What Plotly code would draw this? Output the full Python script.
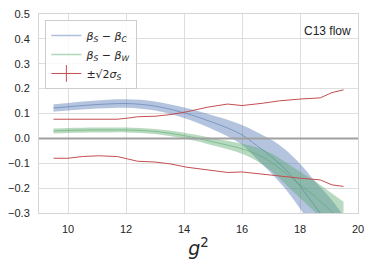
import plotly.graph_objects as go

# ---- data ----
g2 = [9.5, 10, 10.5, 11, 11.5, 12, 12.5, 13, 13.5, 14, 14.5, 15, 15.5, 16,
      16.5, 17, 17.5, 18, 18.5, 19, 19.5]
bc_mid = [0.122, 0.127, 0.132, 0.136, 0.139, 0.140, 0.137, 0.130, 0.118, 0.103,
          0.085, 0.064, 0.042, 0.014, -0.028, -0.072, -0.125, -0.192, -0.270,
          -0.350, -0.440]
bc_err = [0.015, 0.015, 0.016, 0.016, 0.017, 0.017, 0.018, 0.018, 0.019, 0.021,
          0.024, 0.028, 0.033, 0.040, 0.054, 0.067, 0.079, 0.090, 0.100,
          0.115, 0.130]
bw_mid = [0.030, 0.032, 0.033, 0.034, 0.034, 0.034, 0.032, 0.028, 0.021, 0.011,
          0.000, -0.014, -0.027, -0.042, -0.063, -0.095, -0.140, -0.187, -0.232,
          -0.285, -0.340]
bw_err = [0.010, 0.010, 0.010, 0.010, 0.010, 0.010, 0.010, 0.010, 0.011, 0.012,
          0.013, 0.015, 0.017, 0.020, 0.027, 0.035, 0.044, 0.053, 0.062,
          0.072, 0.085]

sig_x = [9.5, 10.0, 10.5, 11.05, 11.7, 12.1, 12.4, 13.0, 13.55, 14.1, 14.8,
         15.5, 16.0, 16.7, 17.3, 18.0, 18.7, 19.1, 19.5]
sig_up = [0.077, 0.077, 0.075, 0.074, 0.077, 0.082, 0.087, 0.089, 0.096, 0.107,
          0.125, 0.138, 0.132, 0.141, 0.151, 0.158, 0.163, 0.184, 0.195]
sig_lo = [-0.080, -0.080, -0.073, -0.070, -0.073, -0.084, -0.092, -0.095, -0.103,
          -0.116, -0.127, -0.137, -0.135, -0.144, -0.153, -0.160, -0.167, -0.187,
          -0.193]

x_ticks = [10, 12, 14, 16, 18, 20]
y_ticks = [-0.3, -0.2, -0.1, 0.0, 0.1, 0.2, 0.3, 0.4, 0.5]
legend_names = ["<i>β<sub>S</sub></i> − <i>β<sub>C</sub></i>",
                "<i>β<sub>S</sub></i> − <i>β<sub>W</sub></i>",
                "±√2<i>σ<sub>S</sub></i>"]

BLUE = "76,114,176"
GREEN = "85,168,104"
RED = "#C44E52"

fig = go.Figure()

def band(mid, err, rgb):
    up = [m + e for m, e in zip(mid, err)]
    lo = [m - e for m, e in zip(mid, err)]
    fig.add_trace(go.Scatter(x=g2, y=up, mode="lines", line=dict(width=0, shape="spline"),
                             showlegend=False, hoverinfo="skip"))
    fig.add_trace(go.Scatter(x=g2, y=lo, mode="lines", line=dict(width=0, shape="spline"),
                             fill="tonexty", fillcolor=f"rgba({rgb},0.42)",
                             showlegend=False, hoverinfo="skip"))
    fig.add_trace(go.Scatter(x=g2, y=mid, mode="lines",
                             line=dict(color=f"rgba({rgb},0.55)", width=1, shape="spline"),
                             showlegend=False))

band(bc_mid, bc_err, BLUE)
band(bw_mid, bw_err, GREEN)

fig.add_trace(go.Scatter(x=sig_x, y=sig_up, mode="lines", line=dict(color=RED, width=1),
                         showlegend=False))
fig.add_trace(go.Scatter(x=sig_x, y=sig_lo, mode="lines", line=dict(color=RED, width=1),
                         showlegend=False))

# legend entries
fig.add_trace(go.Scatter(x=[None], y=[None], mode="lines", name=legend_names[0],
                         line=dict(color=f"rgba({BLUE},0.45)", width=1.5)))
fig.add_trace(go.Scatter(x=[None], y=[None], mode="lines", name=legend_names[1],
                         line=dict(color=f"rgba({GREEN},0.45)", width=1.5)))
fig.add_trace(go.Scatter(x=[None], y=[None], mode="lines+markers", name=legend_names[2],
                         line=dict(color=RED, width=1),
                         marker=dict(symbol="line-ns-open", size=12, color=RED,
                                     line=dict(color=RED, width=1))))

fig.add_hline(y=0, line=dict(color="#a0a0a0", width=2))

fig.add_annotation(text="C13 flow", x=0.985, y=0.915, xref="paper", yref="paper",
                   xanchor="right", yanchor="middle", showarrow=False,
                   font=dict(family="Liberation Sans, Arial", size=12, color="#222"))

fig.update_layout(
    width=374, height=267,
    margin=dict(l=38.5, r=16, t=14, b=54),
    paper_bgcolor="white", plot_bgcolor="white",
    font=dict(family="Liberation Sans, Arial", size=11, color="#262626"),
    legend=dict(x=0.02, y=0.97, xanchor="left", yanchor="top",
                traceorder="normal",
                bgcolor="rgba(255,255,255,0.8)", bordercolor="#cccccc", borderwidth=1,
                font=dict(family="DejaVu Sans", size=11, color="#262626"),
                itemwidth=30, tracegroupgap=2),
    xaxis=dict(range=[9, 20], tickvals=x_ticks, showgrid=True, gridcolor="#dedede",
               gridwidth=1, zeroline=False, showline=True, linecolor="#d5d5d5",
               mirror=True, ticks="", ticklabelstandoff=6, automargin=False,
               title=dict(text="<i>g</i><sup>2</sup>", standoff=6,
                          font=dict(family="DejaVu Sans", size=19, color="#262626"))),
    yaxis=dict(range=[-0.3, 0.5], tickvals=y_ticks, tickformat=".1f",
               showgrid=True, gridcolor="#dedede", gridwidth=1, zeroline=False,
               showline=True, linecolor="#d5d5d5", mirror=True, ticks="",
               ticklabelstandoff=6, automargin=False),
)

fig.write_html("out.html", config={"displayModeBar": False},
               post_script="document.body.style.margin='0';")
